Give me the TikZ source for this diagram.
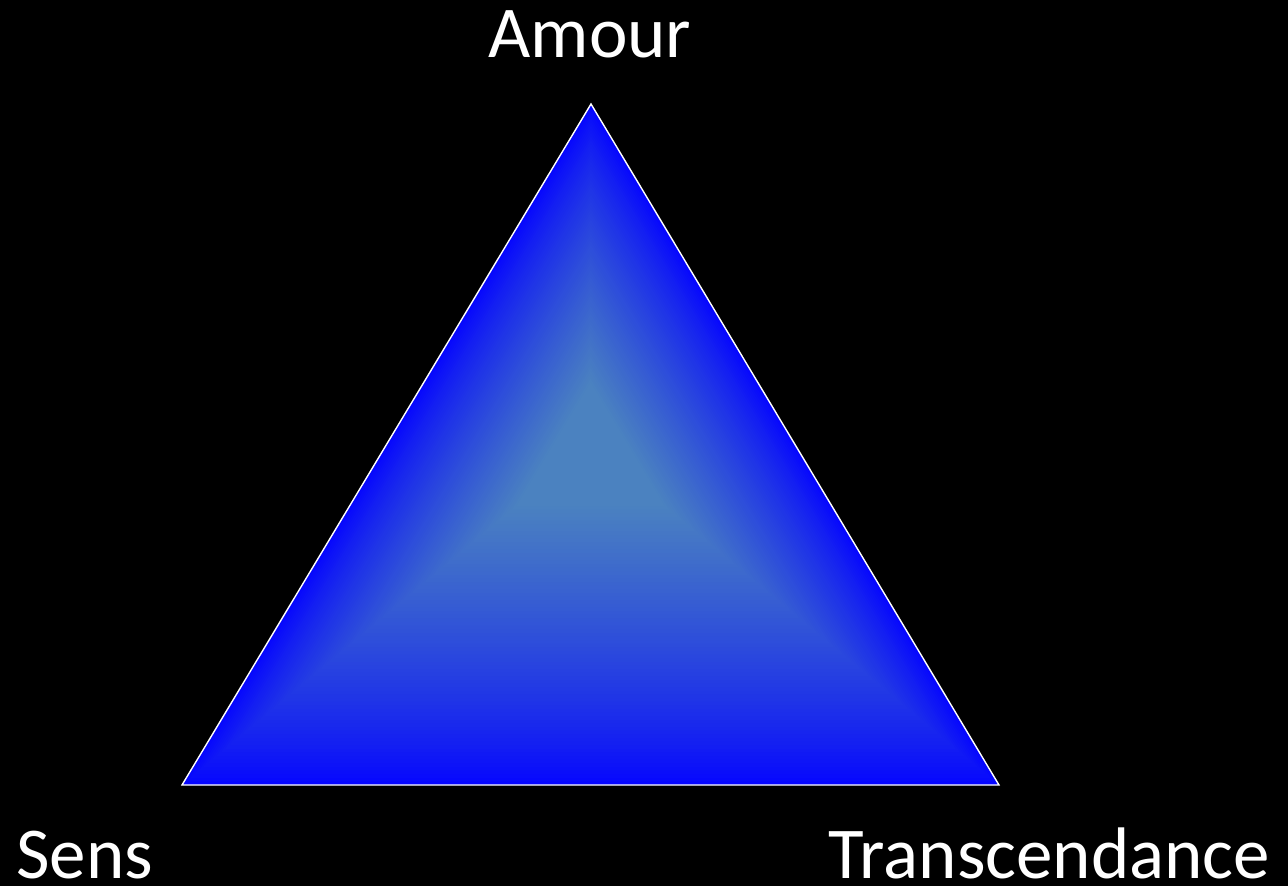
\documentclass[tikz,border=0pt]{standalone}
\usepackage{fontspec}
\setmainfont{Carlito}
\usetikzlibrary{calc}
\definecolor{edgeblue}{RGB}{5,5,255}
\definecolor{corecolor}{RGB}{75,130,192}
\tikzset{
  lbl/.style={text=white, inner sep=0pt, text depth=0pt, font=\fontsize{73}{88}\selectfont},
  outline/.style={draw=white, line width=1.4pt, line join=miter}
}
\begin{document}
\begin{tikzpicture}[x=1pt,y=-1pt]
\fill[black] (0,0) rectangle (1288,886);
\useasboundingbox (0,0) rectangle (1288,886);
\coordinate (A) at (591,104);
\coordinate (B) at (182,785);
\coordinate (C) at (999,785);
\coordinate (O) at (590.5,444);
\foreach \i in {0,...,80}{
  \pgfmathsetmacro\s{1-\i/80*0.85}
  \pgfmathsetmacro\p{min(100,100*((1-\s)/0.82)^0.8)}
  \fill[corecolor!\p!edgeblue] ($(O)!\s!(A)$) -- ($(O)!\s!(B)$) -- ($(O)!\s!(C)$) -- cycle;
}
\draw[outline] (A) -- (B) -- (C) -- cycle;
\node[lbl, anchor=base] (tA) at (590,57) {Amour};
\node[lbl, anchor=base west] (tS) at (16,878) {Sens};
\node[lbl, anchor=base west] (tT) at (828.5,878) {Transcendance};
\end{tikzpicture}
\end{document}
